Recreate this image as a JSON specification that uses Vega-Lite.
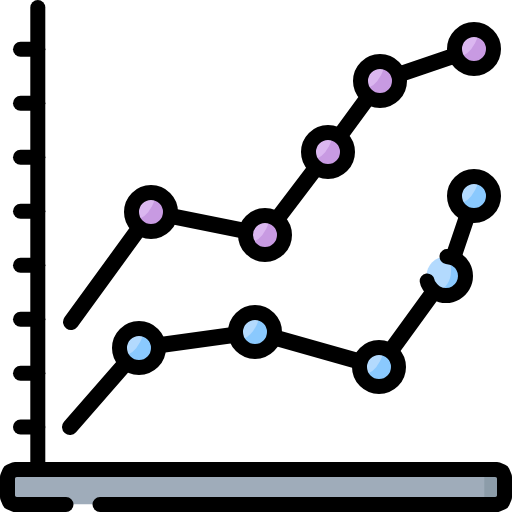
{
"$schema":"https://vega.github.io/schema/vega-lite/v6.json",
"width":512,"height":512,"padding":0,
"autosize":{"type":"none"},
"background":"white",
"config":{"view":{"stroke":null}},
"datasets":{
"base":[{"name":"plate","x":8,"x2":504,"y":469,"y2":504.3}],
"shade":[{"name":"end","x":484.3,"x2":504,"y":469,"y2":504.3}],
"border":[{"i":1,"x":66,"y":504.5},{"i":2,"x":15,"y":504.5},{"i":3,"x":9.7,"y":502.3},{"i":4,"x":7.5,"y":497},{"i":5,"x":7.5,"y":477},{"i":6,"x":9.7,"y":471.7},{"i":7,"x":15,"y":469.5},{"i":8,"x":497,"y":469.5},{"i":9,"x":502.3,"y":471.7},{"i":10,"x":504.5,"y":477},{"i":11,"x":504.5,"y":497},{"i":12,"x":502.3,"y":502.3},{"i":13,"x":497,"y":504.5},{"i":14,"x":100,"y":504.5}],
"axis":[{"x":37.8,"y":7.5,"y2":466}],
"ticks":[{"x":20.5,"x2":37.8,"y":49.3},{"x":20.5,"x2":37.8,"y":103.3},{"x":20.5,"x2":37.8,"y":157.3},{"x":20.5,"x2":37.8,"y":211.3},{"x":20.5,"x2":37.8,"y":265.3},{"x":20.5,"x2":37.8,"y":319.3},{"x":20.5,"x2":37.8,"y":373.3},{"x":20.5,"x2":37.8,"y":427}],
"lines":[
{"s":"a","i":1,"x":71,"y":322},{"s":"a","i":2,"x":151,"y":212},{"s":"a","i":3,"x":265,"y":235},{"s":"a","i":4,"x":328,"y":152},{"s":"a","i":5,"x":380,"y":81},{"s":"a","i":6,"x":474,"y":49},
{"s":"b","i":1,"x":70,"y":427},{"s":"b","i":2,"x":139,"y":348},{"s":"b","i":3,"x":255,"y":332},{"s":"b","i":4,"x":379,"y":367},{"s":"b","i":5,"x":432,"y":294},
{"s":"c","i":1,"x":474,"y":196},{"s":"c","i":2,"x":453,"y":258}],
"ring":[{"i":1,"x":447,"y":256.5},{"i":2,"x":455.75,"y":259.1},{"i":3,"x":462.9,"y":266.25},{"i":4,"x":465.5,"y":276},{"i":5,"x":462.9,"y":285.75},{"i":6,"x":455.75,"y":292.9},{"i":7,"x":446,"y":295.5},{"i":8,"x":436.25,"y":292.9},{"i":9,"x":429.1,"y":285.75},{"i":10,"x":427.2,"y":281}],
"points":[
{"s":"a","x":151,"y":212},{"s":"a","x":265,"y":235},{"s":"a","x":328,"y":152},{"s":"a","x":380,"y":81},{"s":"a","x":474,"y":49},
{"s":"b","x":139,"y":348},{"s":"b","x":255,"y":332},{"s":"b","x":379,"y":367},{"s":"b","x":474,"y":196}],
"broken":[{"x":446,"y":276}]
},
"encoding":{
"x":{"field":"x","type":"quantitative","axis":null,"scale":{"domain":[0,512],"nice":false,"zero":false}},
"y":{"field":"y","type":"quantitative","axis":null,"scale":{"domain":[512,0],"nice":false,"zero":false}}
},
"layer":[
{"data":{"name":"base"},"mark":{"type":"rect","fill":"#9facba"},"encoding":{"x2":{"field":"x2"},"y2":{"field":"y2"}}},
{"data":{"name":"shade"},"mark":{"type":"rect","fill":"#8c9ca9"},"encoding":{"x2":{"field":"x2"},"y2":{"field":"y2"}}},
{"data":{"name":"border"},"mark":{"type":"line","stroke":"#000","strokeWidth":15,"strokeCap":"round","strokeJoin":"round"},"encoding":{"order":{"field":"i"}}},
{"data":{"name":"axis"},"mark":{"type":"rule","stroke":"#000","strokeWidth":15,"strokeCap":"round"},"encoding":{"y2":{"field":"y2"}}},
{"data":{"name":"ticks"},"mark":{"type":"rule","stroke":"#000","strokeWidth":15,"strokeCap":"round"},"encoding":{"x2":{"field":"x2"}}},
{"data":{"name":"lines"},"mark":{"type":"line","stroke":"#000","strokeWidth":16,"strokeCap":"round","strokeJoin":"round"},"encoding":{"detail":{"field":"s"},"order":{"field":"i"}}},
{"data":{"name":"points"},"transform":[{"filter":"datum.s=='a'"}],"mark":{"type":"point","filled":true,"fill":"#c89ae2","opacity":1,"strokeWidth":0,"size":729}},
{"data":{"name":"points"},"transform":[{"filter":"datum.s=='a'"}],"mark":{"type":"point","filled":true,"fill":"#dbb7f0","opacity":1,"strokeWidth":0,"size":729,"shape":"M0.3,-0.95A1,1,0,0,0,-0.86,0.51Q-0.12,0.22,0.3,-0.95Z"}},
{"data":{"name":"points"},"transform":[{"filter":"datum.s=='b'"}],"mark":{"type":"point","filled":true,"fill":"#8ac9fe","opacity":1,"strokeWidth":0,"size":729}},
{"data":{"name":"points"},"transform":[{"filter":"datum.s=='b'"}],"mark":{"type":"point","filled":true,"fill":"#b3dafe","opacity":1,"strokeWidth":0,"size":729,"shape":"M0.3,-0.95A1,1,0,0,0,-0.86,0.51Q-0.12,0.22,0.3,-0.95Z"}},
{"data":{"name":"points"},"mark":{"type":"point","filled":false,"stroke":"#000","opacity":1,"strokeWidth":15,"size":1521}},
{"data":{"name":"broken"},"mark":{"type":"point","filled":true,"fill":"#b3dafe","opacity":1,"strokeWidth":0,"size":1521}},
{"data":{"name":"broken"},"mark":{"type":"point","filled":true,"fill":"#8ac9fe","opacity":1,"strokeWidth":0,"size":729,"shape":"M0.33,-0.94A1,1,0,0,1,-0.25,0.97Q0.55,0.35,0.33,-0.94Z"}},
{"data":{"name":"ring"},"mark":{"type":"line","stroke":"#000","strokeWidth":15,"strokeCap":"round","strokeJoin":"round","interpolate":"cardinal"},"encoding":{"order":{"field":"i"}}}
]
}
